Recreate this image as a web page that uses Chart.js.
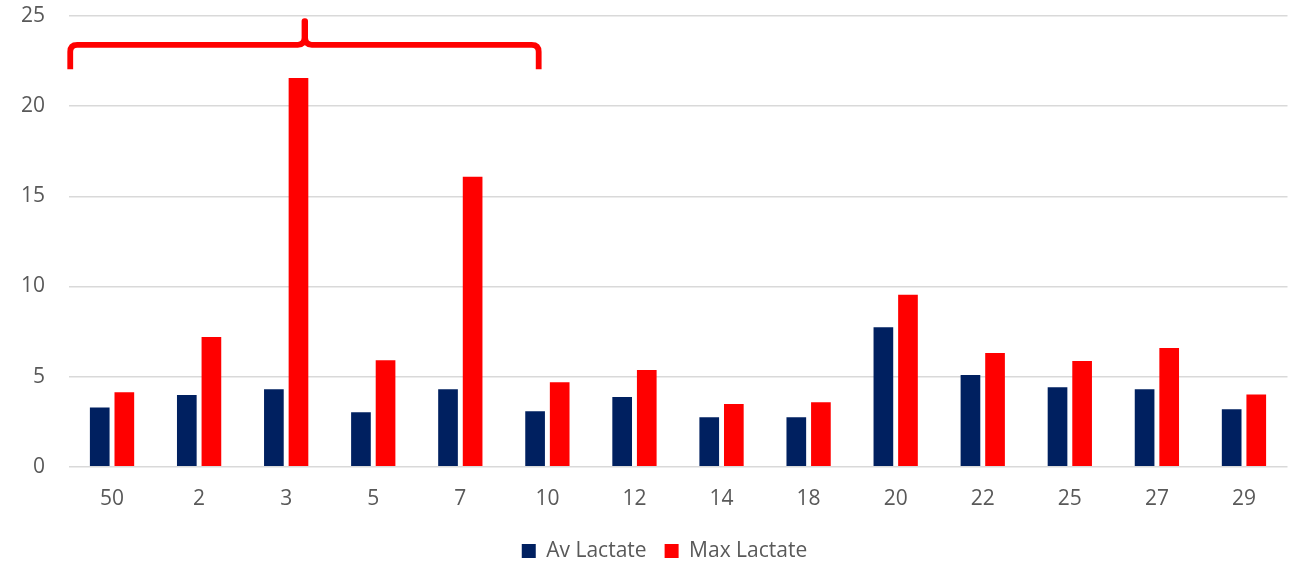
<!DOCTYPE html>
<html>
<head>
<meta charset="utf-8">
<script src="https://cdn.jsdelivr.net/npm/chart.js@4.4.1/dist/chart.umd.min.js"></script>
<style>
  html, body { margin: 0; padding: 0; background: #ffffff; }
  #wrap { width: 1294px; height: 563px; }
</style>
</head>
<body>
<div id="wrap"><canvas id="c" width="1294" height="563"></canvas></div>
<script>
// Lactate per subject
const categories = ['50', '2', '3', '5', '7', '10', '12', '14', '18', '20', '22', '25', '27', '29'];
const avLactate  = [3.28, 3.98, 4.30, 3.02, 4.30, 3.08, 3.86, 2.74, 2.74, 7.74, 5.08, 4.41, 4.30, 3.19];
const maxLactate = [4.13, 7.19, 21.56, 5.91, 16.09, 4.69, 5.36, 3.48, 3.58, 9.54, 6.30, 5.87, 6.59, 4.00];
const yTicks = [0, 5, 10, 15, 20, 25];

const NAVY = '#002060';
const RED = '#FF0000';
const TEXT = '#595959';
const GRID = '#D9D9D9';
const FONT = "'Open Sans', 'Liberation Sans', sans-serif";

// Curly brace grouping the first subjects, placed in data units
const brace = { fromX: -0.48, toX: 4.90, tipX: 2.214, baseY: 22.04, midY: 23.40, tipY: 24.72 };

const bracePlugin = {
  id: 'brace',
  afterDatasetsDraw(chart) {
    const { ctx } = chart;
    const xs = chart.scales.x, ys = chart.scales.y;
    const xL = xs.getPixelForValue(brace.fromX);
    const xR = xs.getPixelForValue(brace.toX);
    const xC = xs.getPixelForValue(brace.tipX);
    const yB = ys.getPixelForValue(brace.baseY);
    const yM = ys.getPixelForValue(brace.midY);
    const yT = ys.getPixelForValue(brace.tipY);
    const r = 7;
    ctx.save();
    ctx.strokeStyle = RED;
    ctx.lineWidth = 5.8;
    ctx.lineCap = 'butt';
    ctx.lineJoin = 'round';
    ctx.beginPath();
    ctx.moveTo(xL, yB);
    ctx.lineTo(xL, yM + r);
    ctx.quadraticCurveTo(xL, yM, xL + r, yM);
    ctx.lineTo(xC - r, yM);
    ctx.quadraticCurveTo(xC - 0.3, yM, xC - 0.3, yM - r);
    ctx.lineTo(xC - 0.3, yT);
    ctx.lineTo(xC + 0.3, yT);
    ctx.lineTo(xC + 0.3, yM - r);
    ctx.quadraticCurveTo(xC + 0.3, yM, xC + r, yM);
    ctx.lineTo(xR - r, yM);
    ctx.quadraticCurveTo(xR, yM, xR, yM + r);
    ctx.lineTo(xR, yB);
    ctx.stroke();
    ctx.restore();
  }
};

// Nudge the legend so it sits centred under the plot, a little lower
const legendOffset = { dx: 20.75, dy: 12.5 };
const legendShiftPlugin = {
  id: 'legendShift',
  afterLayout(chart) {
    const lg = chart.legend;
    if (!lg) return;
    lg.left += legendOffset.dx;
    lg.right += legendOffset.dx;
    lg.top += legendOffset.dy;
    lg.bottom += legendOffset.dy;
  }
};

new Chart(document.getElementById('c'), {
  type: 'bar',
  data: {
    labels: categories,
    datasets: [
      { label: 'Av Lactate', data: avLactate, backgroundColor: NAVY, borderWidth: 0 },
      { label: 'Max Lactate', data: maxLactate, backgroundColor: RED, borderWidth: 0 }
    ]
  },
  options: {
    responsive: false,
    animation: false,
    devicePixelRatio: 1,
    datasets: { bar: { categoryPercentage: 0.565, barPercentage: 0.8 } },
    layout: { padding: { left: 0, right: 6.5, top: 16, bottom: 4 } },
    plugins: {
      tooltip: { enabled: false },
      legend: {
        position: 'bottom',
        labels: {
          boxWidth: 14,
          boxHeight: 14,
          padding: 18,
          color: TEXT,
          font: { family: FONT, size: 21 }
        }
      }
    },
    scales: {
      x: {
        grid: { display: false, drawTicks: false },
        border: { display: false },
        ticks: { color: TEXT, font: { family: FONT, size: 21 }, padding: 19.3, maxRotation: 0 },
        afterFit(scale) {
          scale.height = 43.3;
          scale.paddingLeft = 0;
          scale.paddingRight = 0;
        }
      },
      y: {
        min: 0,
        max: 25,
        afterBuildTicks(scale) { scale.ticks = yTicks.map(v => ({ value: v })); },
        grid: { color: GRID, lineWidth: 1.5, drawTicks: false },
        border: { display: false },
        ticks: { color: TEXT, font: { family: FONT, size: 21 }, padding: 23.5 },
        afterFit(scale) {
          scale.width = 68.5;
          scale.paddingTop = 0;
          scale.paddingBottom = 0;
        }
      }
    }
  },
  plugins: [bracePlugin, legendShiftPlugin]
});
</script>
</body>
</html>
